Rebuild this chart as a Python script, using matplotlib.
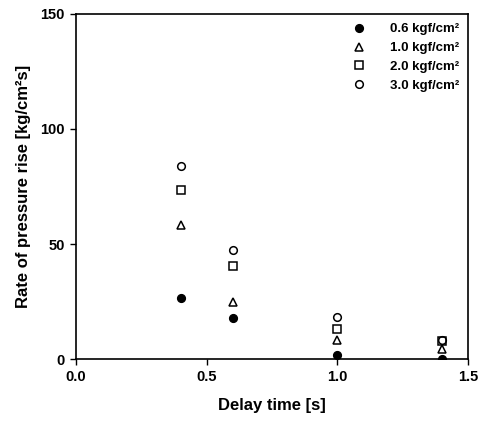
import matplotlib
matplotlib.use("Agg")
import matplotlib.pyplot as plt

plt.rcParams["font.family"] = ["Liberation Sans", "DejaVu Sans"]
plt.rcParams["font.weight"] = "bold"

delay = [0.4, 0.6, 1.0, 1.4]
p06 = [26.4, 17.7, 1.7, 0.2]
p10 = [58.3, 24.9, 8.5, 4.2]
p20 = [73.5, 40.6, 13.3, 7.8]
p30 = [84.0, 47.4, 18.4, 8.3]

series = [
    (p06, "o", "black", "0.6 kgf/cm²"),
    (p10, "^", "none", "1.0 kgf/cm²"),
    (p20, "s", "none", "2.0 kgf/cm²"),
    (p30, "o", "none", "3.0 kgf/cm²"),
]

fig = plt.figure(figsize=(4.84, 4.21), dpi=100)
ax = fig.add_axes([0.157, 0.147, 0.81, 0.82])

for vals, mk, fc, lab in series:
    ax.plot(delay, vals, linestyle="none", marker=mk, markersize=5.5,
            markerfacecolor=fc, markeredgecolor="black", markeredgewidth=1.1,
            label=lab)

ax.set_xlim(0, 1.5)
ax.set_ylim(0, 150)
ax.set_xticks([0.0, 0.5, 1.0, 1.5])
ax.set_xticklabels(["0.0", "0.5", "1.0", "1.5"])
ax.set_yticks([0, 50, 100, 150])
ax.tick_params(direction="out", length=4, width=1, labelsize=10.5, pad=4)
for s in ax.spines.values():
    s.set_linewidth(1.2)

ax.set_xlabel("Delay time [s]", fontsize=12, fontweight="bold", labelpad=10)
ax.set_ylabel("Rate of pressure rise [kg/cm²s]", fontsize=12,
              fontweight="bold", labelpad=7)

leg = ax.legend(loc="upper right", frameon=False, fontsize=9.5,
                handletextpad=1.3, labelspacing=0.5, borderaxespad=0.4,
                borderpad=0.3)

fig.savefig("out.png", dpi=100)
